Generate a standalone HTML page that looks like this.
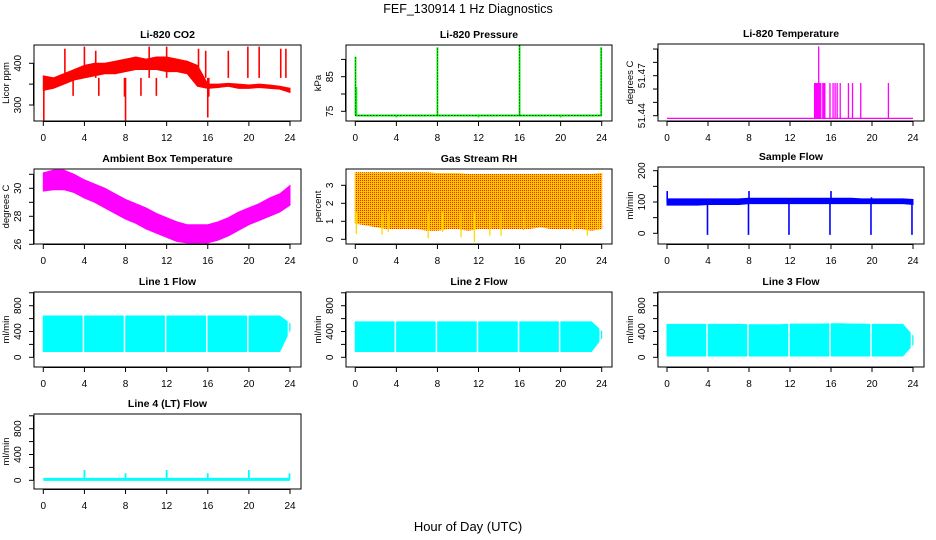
<!DOCTYPE html>
<html><head><meta charset="utf-8"><style>
html,body{margin:0;padding:0;background:#fff}
svg{display:block;font-family:"Liberation Sans",sans-serif}
</style></head><body>
<svg id="chart" width="936" height="540" viewBox="0 0 936 540">
<defs>
<pattern id="rhpat" width="2" height="2" patternUnits="userSpaceOnUse">
<rect width="2" height="2" fill="#ffc800"/><rect width="1" height="1" fill="#ff2000"/>
</pattern>
</defs>
<text x="468" y="13" text-anchor="middle" font-size="12.5">FEF_130914  1 Hz Diagnostics</text>
<text x="468" y="531" text-anchor="middle" font-size="13">Hour of Day (UTC)</text>
</svg>
<script>
// ---- data ----
const hours = [0,1,2,3,4,5,6,7,8,9,10,11,12,13,14,15,16,17,18,19,20,21,22,23,24];
const xTicks = [0,4,8,12,16,20,24];
const co2Hi = [370,365,375,385,395,400,400,405,410,415,410,415,415,410,405,395,350,350,352,350,348,350,348,345,340];
const co2Lo = [335,340,350,360,365,370,375,375,380,385,385,385,380,380,375,345,340,342,345,340,340,342,340,338,330];
const co2SpikeX = [0.05,2.1,2.9,4.0,5.1,5.4,7.9,8.0,9.5,10.3,11.0,12.0,15.1,15.8,16.0,16.1,18.0,19.9,21.0,23.1,23.6];
const co2SpikeY = [263,435,322,440,430,322,320,263,322,440,322,440,435,430,270,320,430,440,440,435,435];
const pressBase = 73.8;
const pressSpikeX = [0.02,0.1,8.0,16.0,23.95];
const pressSpikeY = [90.8,82,93.5,94,93.5];
const pressDipX = [4,12,20];
const pressDipY = [73.2,73.2,73.2];
const liBase = 51.438;
const liSpikeX = [14.4,14.5,14.6,14.7,14.8,14.9,15.0,15.2,15.3,15.4,15.9,16.2,16.4,16.6,16.9,17.7,18.1,18.9,21.6];
const liSpikeY = [51.4645,51.4645,51.4645,51.4645,51.492,51.4645,51.4645,51.4645,51.4645,51.4645,51.4645,51.4645,51.4645,51.4645,51.4645,51.4645,51.4645,51.4645,51.4645];
const ambHi = [31.1,31.3,31.3,31.0,30.6,30.3,30.0,29.6,29.2,28.9,28.6,28.2,27.9,27.6,27.4,27.4,27.4,27.6,27.9,28.3,28.6,28.9,29.3,29.6,30.2];
const ambLo = [29.8,29.9,29.9,29.7,29.3,29.0,28.6,28.2,27.8,27.5,27.1,26.8,26.5,26.2,26.1,26.1,26.1,26.3,26.6,27.0,27.4,27.7,28.0,28.3,28.8];
const rhHi = [3.7,3.7,3.7,3.7,3.7,3.7,3.7,3.7,3.65,3.65,3.65,3.6,3.6,3.6,3.6,3.6,3.6,3.6,3.6,3.6,3.6,3.6,3.6,3.6,3.65];
const rhLo = [0.9,0.8,0.7,0.6,0.6,0.6,0.6,0.5,0.5,0.6,0.6,0.5,0.6,0.6,0.6,0.6,0.6,0.6,0.7,0.6,0.6,0.6,0.6,0.5,0.6];
const rhSpikeX = [0.1,2.6,3.2,4.9,7.1,8.5,10.3,11.6,13.1,14.2,16.4,19.0,21.2,22.6,23.6];
const rhSpikeY = [0.3,0.25,0.4,0.6,0.05,0.4,0.1,-0.15,0.2,0.2,0.5,1.6,0.45,0.2,0.5];
const sfHi = [110,110,110,110,110,110,110,110,112,112,112,112,112,112,112,112,112,112,112,110,110,110,110,110,108];
const sfLo = [90,90,90,90,92,92,92,92,95,95,95,95,95,95,95,95,95,95,95,95,95,95,95,95,92];
const sfSpikeX = [0.02,3.95,7.95,8.0,11.9,15.9,16.0,19.9,19.95,23.9];
const sfSpikeY = [135,-5,-5,135,-5,-5,135,-5,115,-5];
const gapX = [3.9,7.9,11.9,15.9,19.9,23.85];
const l1Hi = [640,640,640,640,640,640,640,640,640,640,640,640,640,640,640,640,640,640,640,640,640,640,640,640,520];
const l1Lo = [90,90,90,90,90,90,90,90,90,90,90,90,90,90,90,90,90,90,90,90,90,90,90,90,420];
const l2Hi = [550,550,550,550,550,550,550,550,550,550,550,550,550,550,550,550,550,550,550,550,550,550,550,550,400];
const l2Lo = [90,90,90,90,90,90,90,90,90,90,90,90,90,90,90,90,90,90,90,90,90,90,90,90,300];
const l3Hi = [510,510,510,510,510,510,510,510,505,505,505,505,515,515,515,515,520,520,515,515,510,510,510,510,330];
const l3Lo = [20,20,20,20,20,20,20,20,20,20,20,20,20,20,20,20,20,20,20,20,20,20,20,20,200];
const l4Base = 15;
const l4SpikeX = [4.0,8.0,12.0,16.0,20.0,23.95];
const l4SpikeY = [160,110,160,110,160,110];

// ---- drawing ----
const NS = "http://www.w3.org/2000/svg";
const svg = document.getElementById('chart');
function el(tag, attrs, parent) {
  const e = document.createElementNS(NS, tag);
  for (const k in attrs) e.setAttribute(k, attrs[k]);
  (parent || svg).appendChild(e);
  return e;
}
function panel(p) {
  const g = el('g', {});
  
  
  const sx = v => p.x0 + (v - 0) * (p.x24 - p.x0) / 24;
  const sy = v => p.ya + (v - p.va) * (p.yb - p.ya) / (p.vb - p.va);
  const t = el('text', {x: (p.L + p.R) / 2, y: p.T - 7, 'text-anchor': 'middle', 'font-size': 10.5, 'font-weight': 'bold'}, g);
  t.textContent = p.title;
  
  
  const plot = el('g', {}, g);
  
  
  p.draw(plot, sx, sy);
  const box = el('rect', {x: p.L, y: p.T, width: p.R - p.L, height: p.B - p.T, fill: 'none', stroke: '#000', 'stroke-width': 1}, g);
  
  
  const xa = el('g', {}, g);
  
  
  el('line', {x1: sx(0), x2: sx(24), y1: p.B + 0.5, y2: p.B + 0.5, stroke: '#000'}, xa);
  xTicks.forEach(v => {
    el('line', {x1: sx(v), x2: sx(v), y1: p.B, y2: p.B + 5, stroke: '#000'}, xa);
    const tt = el('text', {x: sx(v), y: p.B + 20, 'text-anchor': 'middle', 'font-size': 10}, xa);
    tt.textContent = v;
  });
  const ya = el('g', {}, g);
  
  
  el('line', {x1: p.L - 0.5, x2: p.L - 0.5, y1: sy(p.yt[0]), y2: sy(p.yt[p.yt.length - 1]), stroke: '#000'}, ya);
  p.yt.forEach(v => el('line', {x1: p.L - 5, x2: p.L, y1: sy(v), y2: sy(v), stroke: '#000'}, ya));
  p.yl.forEach(v => {
    const lx = p.L - 13, ly = sy(v);
    const tt = el('text', {x: lx, y: ly, 'text-anchor': 'middle', 'font-size': 10, transform: `rotate(-90 ${lx} ${ly})`}, ya);
    tt.textContent = v;
  });
  const yx = p.L - 25, yy = (p.T + p.B) / 2;
  const yt = el('text', {x: yx, y: yy, 'text-anchor': 'middle', 'font-size': 9.5, transform: `rotate(-90 ${yx} ${yy})`}, g);
  yt.textContent = p.ylab;
  
  
}
function band(g, sx, sy, hi, lo, fill) {
  let d = '';
  hours.forEach((h, i) => d += (i ? 'L' : 'M') + sx(h) + ',' + sy(hi[i]));
  for (let i = hours.length - 1; i >= 0; i--) d += 'L' + sx(hours[i]) + ',' + sy(lo[i]);
  el('path', {d: d + 'Z', fill: fill, stroke: fill, 'stroke-width': 1}, g);
}
function spikes(g, sx, sy, xs, ys, base, color, w) {
  xs.forEach((x, i) => el('line', {x1: sx(x), x2: sx(x), y1: sy(base), y2: sy(ys[i]), stroke: color, 'stroke-width': w || 1.5}, g));
}
function gaps(g, sx, sy, hi, lo) {
  gapX.forEach(x => el('line', {x1: sx(x), x2: sx(x), y1: sy(hi) - 2, y2: sy(lo) + 2, stroke: '#fff', 'stroke-width': 1.5}, g));
}
const C1 = {L: 34, R: 301, x0: 43.3, x24: 290};
const C2 = {L: 346, R: 612, x0: 355.3, x24: 601.7};
const C3 = {L: 658, R: 924, x0: 667, x24: 913};

panel(Object.assign({}, C1, {name: 'co2', title: 'Li-820 CO2', ylab: 'Licor ppm', T: 45, B: 121, va: 300, ya: 105, vb: 400, yb: 63.3, yt: [300,350,400], yl: [300,400],
  draw: (g, sx, sy) => { band(g, sx, sy, co2Hi, co2Lo, '#ff0000'); spikes(g, sx, sy, co2SpikeX, co2SpikeY, 365, '#ff0000', 1.6); }}));
panel(Object.assign({}, C2, {name: 'pressure', title: 'Li-820 Pressure', ylab: 'kPa', T: 45, B: 121, va: 75, ya: 111.3, vb: 85, yb: 76.7, yt: [75,80,85,90], yl: [75,85],
  draw: (g, sx, sy) => {
    el('line', {x1: sx(0), x2: sx(24), y1: sy(pressBase), y2: sy(pressBase), stroke: '#00ee00', 'stroke-width': 2}, g);
    el('line', {x1: sx(0), x2: sx(24), y1: sy(pressBase), y2: sy(pressBase), stroke: '#000', 'stroke-width': 1, 'stroke-dasharray': '1 2'}, g);
    spikes(g, sx, sy, pressDipX, pressDipY, pressBase, '#00ee00', 1.5);
    spikes(g, sx, sy, pressSpikeX, pressSpikeY, pressBase, '#00ee00', 1.8);
    pressSpikeX.forEach((x, i) => { if (i !== 1) el('line', {x1: sx(x), x2: sx(x), y1: sy(pressBase), y2: sy(pressSpikeY[i]), stroke: '#000', 'stroke-width': 0.8, 'stroke-dasharray': '1 2'}, g); });
  }}));
panel(Object.assign({}, C3, {name: 'li820-temperature', title: 'Li-820 Temperature', ylab: 'degrees C', T: 44, B: 121, va: 51.44, ya: 115.7, vb: 51.47, yb: 75.7, yt: [51.44,51.45,51.46,51.47,51.48,51.49], yl: [51.44,51.47],
  draw: (g, sx, sy) => {
    el('line', {x1: sx(0), x2: sx(24), y1: sy(liBase), y2: sy(liBase), stroke: '#ff00ff', 'stroke-width': 1.2}, g);
    spikes(g, sx, sy, liSpikeX, liSpikeY, liBase, '#ff00ff', 1.3);
  }}));
panel(Object.assign({}, C1, {name: 'ambient-temperature', title: 'Ambient Box Temperature', ylab: 'degrees C', T: 169, B: 244, va: 28, ya: 216.3, vb: 30, yb: 188.3, yt: [26,27,28,29,30,31], yl: [26,28,30],
  draw: (g, sx, sy) => band(g, sx, sy, ambHi, ambLo, '#ff00ff')}));
panel(Object.assign({}, C2, {name: 'gas-stream-rh', title: 'Gas Stream RH', ylab: 'percent', T: 169, B: 244, va: 0, ya: 239.3, vb: 3, yb: 185.3, yt: [0,1,2,3], yl: [0,1,2,3],
  draw: (g, sx, sy) => { band(g, sx, sy, rhHi, rhLo, 'url(#rhpat)'); spikes(g, sx, sy, rhSpikeX, rhSpikeY, 1.5, '#ffd800', 1.3); }}));
panel(Object.assign({}, C3, {name: 'sample-flow', title: 'Sample Flow', ylab: 'ml/min', T: 167, B: 244, va: 0, ya: 233.3, vb: 200, yb: 170.7, yt: [0,50,100,150,200], yl: [0,100,200],
  draw: (g, sx, sy) => { band(g, sx, sy, sfHi, sfLo, '#0000ff'); spikes(g, sx, sy, sfSpikeX, sfSpikeY, 100, '#0000ff', 1.6); }}));
const flowAx = {va: 0, vb: 800, yt: [0,200,400,600,800,1000], yl: [0,400,800], ylab: 'ml/min'};
panel(Object.assign({}, C1, flowAx, {name: 'line1-flow', title: 'Line 1 Flow', T: 292, B: 367, ya: 357.3, yb: 305.7,
  draw: (g, sx, sy) => { band(g, sx, sy, l1Hi, l1Lo, '#00ffff'); gaps(g, sx, sy, 640, 90); }}));
panel(Object.assign({}, C2, flowAx, {name: 'line2-flow', title: 'Line 2 Flow', T: 292, B: 367, ya: 357.3, yb: 305.7,
  draw: (g, sx, sy) => { band(g, sx, sy, l2Hi, l2Lo, '#00ffff'); gaps(g, sx, sy, 550, 90); }}));
panel(Object.assign({}, C3, flowAx, {name: 'line3-flow', title: 'Line 3 Flow', T: 292, B: 367, ya: 357.3, yb: 305.7,
  draw: (g, sx, sy) => { band(g, sx, sy, l3Hi, l3Lo, '#00ffff'); gaps(g, sx, sy, 520, 20); }}));
panel(Object.assign({}, C1, flowAx, {name: 'line4-flow', title: 'Line 4 (LT) Flow', T: 414, B: 489, ya: 480.3, yb: 428.7,
  draw: (g, sx, sy) => {
    el('line', {x1: sx(0), x2: sx(24), y1: sy(l4Base), y2: sy(l4Base), stroke: '#00ffff', 'stroke-width': 3}, g);
    spikes(g, sx, sy, l4SpikeX, l4SpikeY, l4Base, '#00ffff', 1.8);
  }}));
</script>
</body></html>
